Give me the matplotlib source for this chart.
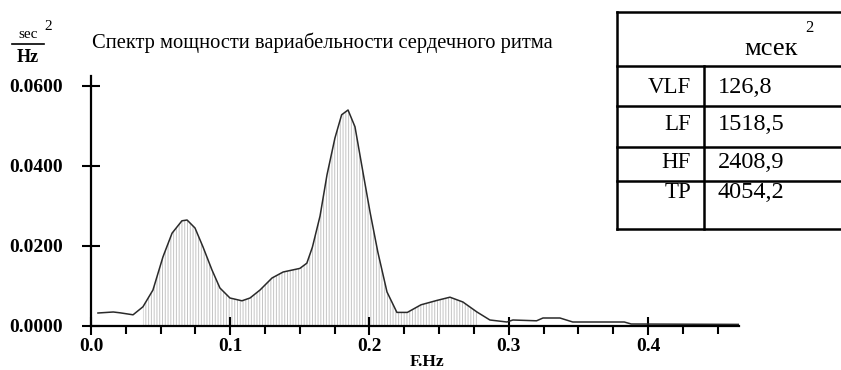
import numpy as np
import matplotlib
matplotlib.use("Agg")
import matplotlib.pyplot as plt
from matplotlib.ticker import MultipleLocator, FormatStrFormatter

# HRV power spectrum
freq = np.array([0.005, 0.016, 0.0208, 0.0302, 0.0373, 0.0445, 0.0517, 0.0582,
                 0.0653, 0.0690, 0.0747, 0.0804, 0.0869, 0.0926, 0.0998, 0.1084,
                 0.1142, 0.1214, 0.1300, 0.1380, 0.1500, 0.1550, 0.1590, 0.1645,
                 0.1695, 0.1752, 0.1800, 0.1846, 0.1896, 0.1953, 0.2004, 0.2060,
                 0.2126, 0.2197, 0.2272, 0.2370, 0.2485, 0.2578, 0.2671, 0.2772,
                 0.2865, 0.2987, 0.3030, 0.3200, 0.3246, 0.3368, 0.3460, 0.3830,
                 0.3880, 0.4654])
power = np.array([0.00325, 0.0035, 0.0033, 0.0028, 0.0048, 0.0090, 0.0173, 0.0232,
                  0.0263, 0.0265, 0.0245, 0.0198, 0.0140, 0.0095, 0.0070, 0.0063,
                  0.0070, 0.0090, 0.0120, 0.0135, 0.0144, 0.0157, 0.0197, 0.0275,
                  0.0378, 0.0470, 0.0528, 0.0540, 0.0498, 0.0385, 0.0285, 0.0185,
                  0.0085, 0.0034, 0.0034, 0.0053, 0.0064, 0.0072, 0.0060, 0.0035,
                  0.0015, 0.0010, 0.0015, 0.0013, 0.0020, 0.0020, 0.0010, 0.0010,
                  0.0005, 0.0004])

fill_lo, fill_hi = 0.037, 0.28   # shaded band under the spectrum

yticks = [0.0, 0.02, 0.04, 0.06]
xticks = [0.0, 0.1, 0.2, 0.3, 0.4]

title = "Спектр мощности вариабельности сердечного ритма"

# summary table
tab_header = "мсек"
tab_bands = ["VLF", "LF", "HF", "TP"]
tab_values = ["126,8", "1518,5", "2408,9", "4054,2"]

plt.rcParams["font.family"] = ["Liberation Serif", "DejaVu Serif"]
plt.rcParams["hatch.linewidth"] = 0.7

W, H = 841, 370
fig = plt.figure(figsize=(W / 100, H / 100), dpi=100)

ax = fig.add_axes([91 / W, 1 - 326 / H, 648 / W, 250 / H])
ax.set_xlim(0, 0.4654)
ax.set_ylim(0, 0.0625)

mask = (freq >= fill_lo) & (freq <= fill_hi)
ax.fill_between(freq, power, where=mask, facecolor="none", edgecolor="#c4c4c4",
                hatch="||||||", linewidth=0)
ax.plot(freq, power, color="#2a2a2a", lw=1.1)

for s in ["top", "right"]:
    ax.spines[s].set_visible(False)
for s in ["left", "bottom"]:
    ax.spines[s].set_linewidth(1.6)

ax.set_yticks(yticks)
ax.yaxis.set_major_formatter(FormatStrFormatter("%.4f"))
ax.set_xticks(xticks)
ax.xaxis.set_major_formatter(FormatStrFormatter("%.1f"))
ax.xaxis.set_minor_locator(MultipleLocator(0.025))
ax.tick_params(axis="y", direction="inout", length=13, width=1.5, pad=14,
               labelsize=14)
ax.tick_params(axis="x", which="major", direction="inout", length=13, width=1.5,
               pad=2, labelsize=14)
ax.tick_params(axis="x", which="minor", direction="out", length=6, width=1.5)
for lab in ax.get_xticklabels() + ax.get_yticklabels():
    lab.set_fontweight("bold")

ax.set_xlabel("F.Hz", fontsize=12.5, fontweight="bold")
ax.xaxis.set_label_coords((427 - 91) / 648, -(354 - 326) / 250)

fig.text(92 / W, 1 - 43 / H, title, fontsize=14.8, va="center", ha="left")

# units label sec^2 / Hz
fig.text(28 / W, 1 - 35 / H, "sec", fontsize=11, ha="center", va="center")
fig.text(48 / W, 1 - 27 / H, "2", fontsize=11, ha="center", va="center")
fig.add_artist(plt.Line2D([12 / W, 44 / W], [1 - 44 / H, 1 - 44 / H],
                          color="black", lw=1.2))
fig.text(28 / W, 1 - 57 / H, "Hz", fontsize=13, ha="center", va="center",
         fontweight="bold")

# table drawn in pixel coordinates
tb = fig.add_axes([0, 0, 1, 1])
tb.set_xlim(0, W)
tb.set_ylim(H, 0)
tb.axis("off")
tb.patch.set_alpha(0)
lw = 1.8
x0, x1, xc = 617, W + 5, 704
row_y = [12, 66, 106, 147, 181, 229]
tb.plot([x0, x1], [row_y[0], row_y[0]], color="black", lw=lw)
tb.plot([x0, x1], [row_y[-1], row_y[-1]], color="black", lw=lw)
tb.plot([x0, x0], [row_y[0], row_y[-1]], color="black", lw=lw)
tb.plot([xc, xc], [row_y[1], row_y[-1]], color="black", lw=lw)
for y in row_y[1:-1]:
    tb.plot([x0, x1], [y, y], color="black", lw=lw)

tb.text(771, 55, tab_header, fontsize=19, ha="center", va="baseline")
tb.text(809, 28, "2", fontsize=12, ha="center", va="center")
text_base = [93, 130, 168, 198]
for band, val, y in zip(tab_bands, tab_values, text_base):
    tb.text(691, y, band, fontsize=16.5, ha="right", va="baseline")
    tb.text(718, y, val, fontsize=17.5, ha="left", va="baseline")

fig.savefig("out.png", dpi=100)
